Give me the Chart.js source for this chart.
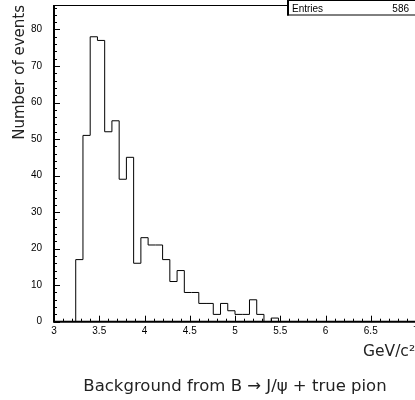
<!DOCTYPE html>
<html>
<head>
<meta charset="utf-8">
<script src="https://cdn.jsdelivr.net/npm/chart.js@4.4.0/dist/chart.umd.min.js"></script>
<style>
html,body{margin:0;padding:0;background:#fff;overflow:hidden;width:415px;height:400px;}
canvas{display:block;}
</style>
</head>
<body>
<canvas id="c" width="420" height="400"></canvas>
<script>
// Histogram bin low edges (GeV/c^2) and contents of the bin starting at that edge
const binEdges = [3.00, 3.24, 3.32, 3.40, 3.48, 3.56, 3.64, 3.72, 3.80, 3.88, 3.96, 4.04, 4.12, 4.20, 4.28, 4.36, 4.44, 4.52, 4.60, 4.68, 4.76, 4.84, 4.92, 5.00, 5.08, 5.16, 5.24, 5.32, 5.40, 5.48, 7.00];
const binCounts = [0, 17, 51, 78, 77, 52, 55, 39, 45, 16, 23, 21, 21, 17, 11, 14, 8, 8, 5, 5, 2, 5, 3, 2, 2, 6, 2, 0, 1, 0, 0];
const xTickLabels = [3, 3.5, 4, 4.5, 5, 5.5, 6, 6.5, 7];
const yTickLabels = [0, 10, 20, 30, 40, 50, 60, 70, 80];
const xRange = [3, 7];
const yRange = [0, 86.7];
const entries = 586;
const yTitle = 'Number of events';
const xTitle = 'GeV/c\u00B2';
const mainTitle = 'Background from B \u2192 J/\u03C8 + true pion';

// point i = (edge, content of previous bin); horizontal-first stepping draws each bin over [edge_{i-1}, edge_i]
const points = binEdges.map((e, i) => ({x: e, y: binCounts[i]}));

const rootFrame = {
  id: 'rootFrame',
  afterDraw(chart) {
    const ctx = chart.ctx;
    const a = chart.chartArea;
    const xs = chart.scales.x, ys = chart.scales.y;
    ctx.save();
    ctx.strokeStyle = '#000';
    // frame
    ctx.lineWidth = 1;
    ctx.beginPath();
    ctx.moveTo(a.left, a.top + 0.5);
    ctx.lineTo(a.right, a.top + 0.5);
    ctx.stroke();
    ctx.lineWidth = 2;
    ctx.beginPath();
    ctx.moveTo(a.left, a.top);
    ctx.lineTo(a.left, a.bottom);
    ctx.lineTo(a.right, a.bottom);
    ctx.lineTo(a.right, a.top);
    ctx.stroke();
    // x ticks (inward)
    ctx.lineWidth = 1;
    ctx.beginPath();
    for (let k = 0; k <= 40; k++) {
      const v = xRange[0] + k * 0.1;
      const px = Math.round(xs.getPixelForValue(v)) + 0.5;
      const len = (k % 5 === 0) ? 6 : 3;
      ctx.moveTo(px, a.bottom);
      ctx.lineTo(px, a.bottom - len);
    }
    // y ticks (inward)
    for (let v = 0; v <= 86; v += 2) {
      const py = Math.round(ys.getPixelForValue(v)) + 0.5;
      const len = (v % 10 === 0) ? 6 : 3;
      ctx.moveTo(a.left, py);
      ctx.lineTo(a.left + len, py);
    }
    ctx.stroke();
    // stats box
    ctx.fillStyle = '#fff';
    ctx.fillRect(287, 0, 140, 15);
    ctx.lineWidth = 1;
    ctx.strokeRect(287.5, 0.5, 140, 14.5);
    ctx.lineWidth = 2;
    ctx.beginPath();
    ctx.moveTo(288, 0);
    ctx.lineTo(288, 15.5);
    ctx.stroke();
    ctx.fillStyle = '#000';
    ctx.font = '10px "Liberation Sans", Arial, sans-serif';
    ctx.textBaseline = 'alphabetic';
    ctx.textAlign = 'left';
    ctx.fillText('Entries', 292, 12);
    ctx.textAlign = 'right';
    ctx.fillText(String(entries), 409, 12);
    // titles
    ctx.fillStyle = '#222';
    ctx.font = '15.5px "DejaVu Sans", sans-serif';
    ctx.textAlign = 'left';
    ctx.textBaseline = 'alphabetic';
    ctx.fillText(xTitle, 363, 356);
    ctx.font = '16.5px "DejaVu Sans", sans-serif';
    ctx.textAlign = 'center';
    ctx.fillText(mainTitle, 235, 391);
    ctx.save();
    ctx.translate(24, 5);
    ctx.rotate(-Math.PI / 2);
    ctx.textAlign = 'right';
    ctx.textBaseline = 'alphabetic';
    ctx.font = '15px "DejaVu Sans", sans-serif';
    ctx.fillText(yTitle, 0, 0);
    ctx.restore();
    ctx.restore();
  }
};

new Chart(document.getElementById('c'), {
  type: 'line',
  data: {
    datasets: [{
      data: points,
      stepped: true,
      borderColor: '#000',
      borderWidth: 1,
      pointRadius: 0,
      fill: false,
      tension: 0
    }]
  },
  options: {
    responsive: false,
    animation: false,
    devicePixelRatio: 1,
    layout: {padding: {left: 0, top: 5, right: 4, bottom: 0}},
    plugins: {legend: {display: false}, tooltip: {enabled: false}, title: {display: false}},
    scales: {
      x: {
        type: 'linear',
        min: xRange[0], max: xRange[1],
        grid: {display: false, drawTicks: false},
        border: {display: false},
        afterBuildTicks(s) { s.ticks = xTickLabels.map(v => ({value: v})); },
        afterFit(s) { s.height = 78.3; s.paddingLeft = 0; s.paddingRight = 0; },
        ticks: {
          padding: 4, maxRotation: 0, autoSkip: false, color: '#000',
          font: {family: '"Liberation Sans", Arial, sans-serif', size: 10},
          callback: v => String(v)
        }
      },
      y: {
        type: 'linear',
        min: yRange[0], max: yRange[1],
        grid: {display: false, drawTicks: false},
        border: {display: false},
        afterBuildTicks(s) { s.ticks = yTickLabels.map(v => ({value: v})); },
        afterFit(s) { s.width = 54; s.paddingTop = 0; s.paddingBottom = 0; },
        ticks: {
          padding: 12, autoSkip: false, color: '#000',
          font: {family: '"Liberation Sans", Arial, sans-serif', size: 10},
          callback: v => String(v)
        }
      }
    }
  },
  plugins: [rootFrame]
});
</script>
</body>
</html>
